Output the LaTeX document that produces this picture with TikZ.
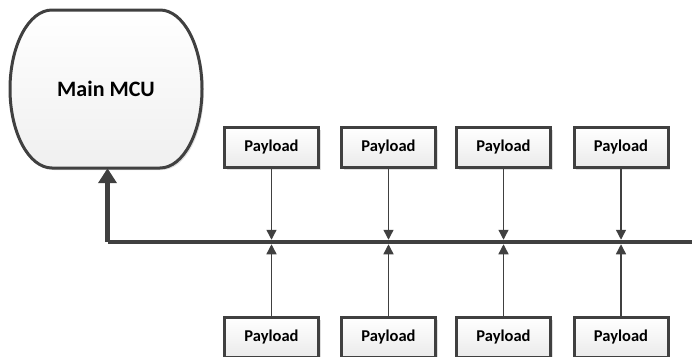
\documentclass[tikz,border=0pt]{standalone}
\usepackage{fontspec}
\setmainfont{Carlito}
\usetikzlibrary{arrows.meta,shadows}
\definecolor{linecol}{HTML}{404040}
\tikzset{
  payload/.style={draw=linecol, line width=3pt, top color=white, bottom color=gray!16,
    minimum width=94pt, minimum height=40pt, inner sep=0pt,
    font=\fontsize{16.5}{18}\selectfont\bfseries,
    drop shadow={shadow xshift=2pt, shadow yshift=-2pt, opacity=0.25, fill=gray}},
  conn/.style={draw=linecol, line width=1.4pt, -{Triangle[length=10pt,width=10pt]}},
  busline/.style={draw=linecol, line width=4.5pt},
}
\begin{document}
\begin{tikzpicture}[x=1pt,y=1pt]
\useasboundingbox (0,0) rectangle (692,-356);
\clip (0,0) rectangle (692,-356);

% main controller outline: flat top and bottom, half-ellipse sides
\def\mcupath{(52,-10) -- (160,-10) arc[start angle=90,end angle=-90,x radius=42,y radius=79]
  -- (52,-168) arc[start angle=270,end angle=90,x radius=42,y radius=79] -- cycle}
\fill[gray, opacity=0.25, xshift=2pt, yshift=-2pt] \mcupath;
\shade[top color=white, bottom color=gray!12] \mcupath;
\draw[linecol, line width=3pt] \mcupath;
\node[minimum width=192pt, minimum height=158pt, inner sep=0pt,
  font=\fontsize{22}{24}\selectfont\bfseries] (mcu) at (106,-89) {Main MCU};

% bus
\coordinate (busL) at (107.5,-242);
\coordinate (busR) at (700,-242);
\coordinate (busTop) at (0,-239.75);
\coordinate (busBot) at (0,-244.25);
\draw[busline] (busR) -- (busL);
\draw[busline, -{Triangle[length=15pt,width=18pt]}] (busL) -- (busL |- mcu.south);

% payloads above and below the bus
\foreach \i/\x in {1/271.5, 2/388.5, 3/503.5, 4/621} {
  \node[payload] (t\i) at (\x,-147.5) {Payload};
  \node[payload] (b\i) at (\x,-337.5) {Payload};
  \draw[conn] (t\i.south) -- (t\i.south |- busTop);
  \draw[conn] (b\i.north) -- (b\i.north |- busBot);
}
\end{tikzpicture}
\end{document}
